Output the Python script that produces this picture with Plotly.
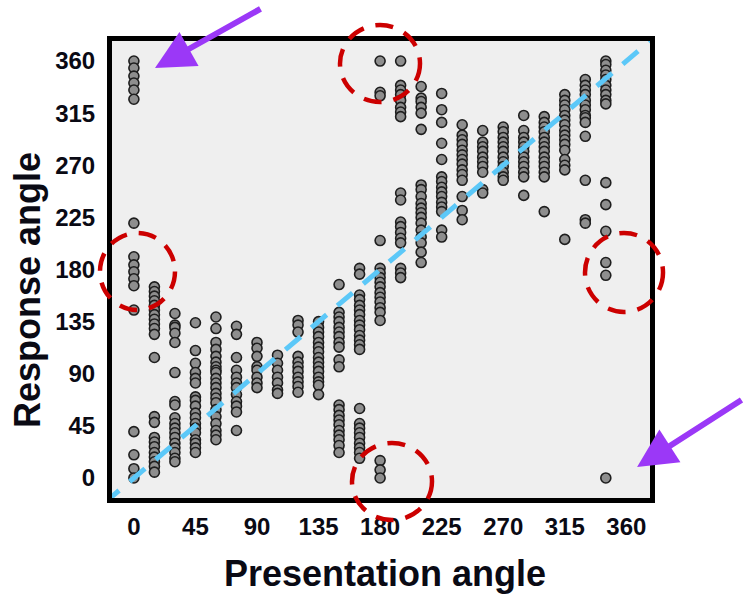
import plotly.graph_objects as go

# Presentation angles (deg) tested, and the response angles recorded at each
presentation_angles = list(range(0, 360, 15))

resp_000 = [360, 354, 347, 341, 335, 327, 220, 191, 184, 178, 172, 166, 145, 40, 20, 8, 0]
resp_015 = [165, 161, 157, 153, 149, 145, 141, 137, 133, 129, 124, 104, 53, 48, 35, 31, 27, 22, 18, 14, 10, 5]
resp_030 = [142, 132, 130, 125, 117, 91, 66, 63, 52, 47, 43, 39, 35, 30, 26, 22, 17, 14]
resp_045 = [134, 110, 99, 91, 86, 82, 70, 67, 62, 56, 52, 47, 43, 39, 33, 30, 26, 22]
resp_060 = [139, 129, 117, 111, 105, 100, 96, 93, 91, 86, 82, 78, 73, 69, 65, 59, 53, 47, 41, 37, 33]
resp_075 = [131, 124, 104, 93, 87, 82, 78, 72, 66, 62, 57, 41]
resp_090 = [117, 112, 105, 96, 93, 87, 82, 78]
resp_105 = [106, 99, 93, 87, 82, 76, 73]
resp_120 = [136, 132, 126, 105, 100, 96, 92, 87, 83, 79, 74]
resp_135 = [135, 130, 126, 122, 117, 113, 109, 104, 100, 96, 92, 87, 83, 80, 72]
resp_150 = [167, 143, 139, 135, 130, 126, 122, 117, 113, 102, 96, 63, 59, 54, 50, 46, 41, 37, 33, 28, 22]
resp_165 = [181, 176, 158, 154, 149, 145, 141, 136, 132, 128, 123, 119, 115, 111, 60, 47, 43, 39, 35, 30, 26, 22, 17]
resp_180 = [360, 333, 330, 205, 181, 177, 173, 169, 165, 160, 156, 152, 147, 143, 136, 15, 7, 0]
resp_195 = [360, 339, 335, 331, 326, 320, 316, 312, 246, 240, 221, 217, 212, 207, 203, 181, 177, 173]
resp_210 = [338, 328, 325, 320, 315, 301, 253, 249, 243, 237, 233, 229, 225, 220, 214, 208, 203, 195, 186]
resp_225 = [332, 318, 307, 289, 275, 260, 256, 251, 247, 243, 238, 234, 230, 214, 208]
resp_240 = [305, 296, 292, 288, 283, 279, 275, 271, 266, 262, 257, 243, 231, 223]
resp_255 = [300, 290, 286, 282, 277, 273, 269, 264, 249, 246]
resp_270 = [303, 299, 294, 290, 286, 282, 277, 273, 269, 264, 260, 257]
resp_285 = [313, 300, 294, 290, 286, 282, 277, 273, 269, 264, 260, 244]
resp_300 = [312, 307, 303, 299, 294, 290, 286, 282, 277, 273, 269, 264, 260, 230]
resp_315 = [331, 326, 322, 318, 313, 309, 305, 300, 296, 292, 288, 283, 275, 270, 266, 206]
resp_330 = [344, 339, 335, 331, 326, 322, 318, 313, 311, 307, 295, 257, 223, 220]
resp_345 = [360, 357, 352, 348, 344, 339, 335, 331, 326, 323, 255, 236, 213, 186, 175, 0]

responses = [resp_000, resp_015, resp_030, resp_045, resp_060, resp_075, resp_090, resp_105,
             resp_120, resp_135, resp_150, resp_165, resp_180, resp_195, resp_210, resp_225,
             resp_240, resp_255, resp_270, resp_285, resp_300, resp_315, resp_330, resp_345]

tick_values = [0, 45, 90, 135, 180, 225, 270, 315, 360]
tick_labels = ["0", "45", "90", "135", "180", "225", "270", "315", "360"]

# Identity line (response == presentation)
identity = [-22, 390]

xs, ys = [], []
for angle, vals in zip(presentation_angles, responses):
    xs.extend([angle] * len(vals))
    ys.extend(vals)

FONT = "Liberation Sans, Arial, sans-serif"
INK = "#0a0a14"

fig = go.Figure()
fig.add_trace(go.Scatter(
    x=xs, y=ys, mode="markers",
    marker=dict(size=10, color="#8e8e8e", line=dict(color="#1e1e1e", width=1.6)),
    cliponaxis=False, hoverinfo="skip",
))
fig.add_trace(go.Scatter(
    x=identity, y=identity, mode="lines",
    line=dict(color="#5cc8f8", width=5, dash="20px,14px"),
    hoverinfo="skip",
))

tick_font = dict(family=FONT, size=24, color=INK, weight="bold")
axis_common = dict(
    showgrid=False, zeroline=False, showline=True, linecolor="#000000", linewidth=5,
    mirror=True, ticks="", tickvals=tick_values, ticktext=tick_labels, tickfont=tick_font,
)
fig.update_xaxes(range=[-16, 377.3], ticklabelstandoff=3, **axis_common)
fig.update_yaxes(range=[-17.3, 377.3], ticklabelstandoff=7, **axis_common)

# Dashed red rings highlighting the wrap-around clusters
ring = dict(type="circle", xref="paper", yref="paper", layer="above",
            line=dict(color="#cc0000", width=4.5, dash="18px,12px"))
for x0, x1, y0, y1 in [(0.4238, 0.5725, 0.8665, 1.035),
                       (-0.0223, 0.1171, 0.4114, 0.5799),
                       (0.8792, 1.0242, 0.407, 0.5799),
                       (0.4461, 0.5948, -0.0481, 0.1203)]:
    fig.add_shape(x0=x0, x1=x1, y0=y0, y1=y1, **ring)

arrow = dict(xref="paper", yref="paper", showarrow=True, text="", arrowcolor="#9b38f7",
             arrowhead=2, arrowwidth=6, arrowsize=1.3, standoff=0)
fig.add_annotation(x=0.0799, y=0.941, ax=107, ay=-60, **arrow)
fig.add_annotation(x=0.976, y=0.0678, ax=115, ay=-68, **arrow)

title_font = dict(family=FONT, size=36, color=INK)
fig.add_annotation(text="<b>Presentation angle</b>", xref="paper", yref="paper",
                   x=0.508, y=-0.166, showarrow=False, font=title_font,
                   xanchor="center", yanchor="middle")
fig.add_annotation(text="<b>Response angle</b>", xref="paper", yref="paper",
                   x=-0.158, y=0.455, showarrow=False, font=title_font, textangle=-90,
                   xanchor="center", yanchor="middle")

fig.update_layout(
    width=743, height=596,
    margin=dict(l=112, r=93, t=41, b=98),
    paper_bgcolor="#ffffff", plot_bgcolor="#efefef",
    showlegend=False,
    font=dict(family=FONT, color=INK),
)

fig.write_html("out.html")
